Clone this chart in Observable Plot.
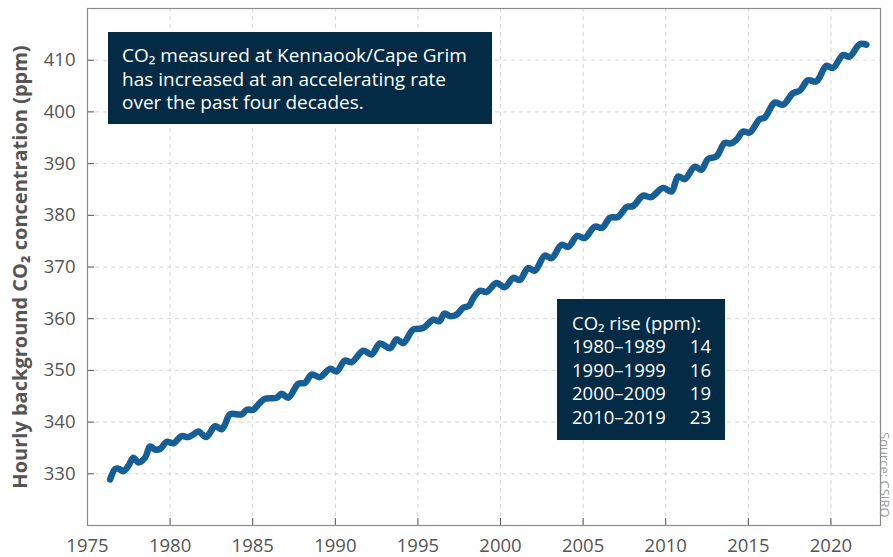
<!DOCTYPE html>
<html><head><meta charset="utf-8">
<script src="https://cdn.jsdelivr.net/npm/d3@7"></script>
<script src="https://cdn.jsdelivr.net/npm/@observablehq/plot@0.6"></script>
<style>
body{margin:0;background:#fff;font-family:"Open Sans",sans-serif;}
#wrap{position:relative;width:893px;height:557px;overflow:hidden;background:#fff;}
#wrap svg{position:absolute;left:0;top:0;}
.box{position:absolute;background:#032b45;color:#fff;font-size:19px;line-height:23.5px;box-sizing:border-box;white-space:nowrap;}
#box1{left:108px;top:32px;width:384px;height:92px;padding:12px 0 0 14px;}
#box2{left:557px;top:299px;width:168px;height:141px;padding:11.5px 14px 0 15px;font-size:18.5px;}
#box2 .row{display:flex;justify-content:space-between;}
#src{position:absolute;left:893px;top:432px;transform-origin:0 0;transform:rotate(90deg);font-size:13px;line-height:17px;color:#999;white-space:nowrap;}
</style></head><body><div id="wrap"></div>
<script>
// decimal year of each reading
const years = [1976.37,1976.67,1976.87,1977.17,1977.47,1977.78,1978.08,1978.48,1978.79,1979.09,1979.39,1979.80,
1980.20,1980.70,1981.10,1981.40,1981.71,1982.18,1982.72,1983.12,1983.32,1983.63,1984.33,1984.64,1985.04,1985.40,
1985.74,1986.45,1986.75,1987.15,1987.76,1988.16,1988.57,1989.07,1989.68,1990.08,1990.58,1990.99,1991.69,1992.20,
1992.70,1993.31,1993.71,1994.11,1994.72,1995.32,1995.93,1996.30,1996.60,1996.94,1997.34,1997.74,1998.10,1998.35,
1998.75,1999.16,1999.76,2000.26,2000.77,2001.17,2001.67,2002.08,2002.68,2003.09,2003.69,2004.09,2004.65,2005.10,
2005.70,2006.15,2006.62,2007.12,2007.63,2008.03,2008.63,2009.10,2009.84,2010.35,2010.75,2011.15,2011.76,2012.16,
2012.56,2013.07,2013.57,2013.95,2014.28,2014.68,2015.08,2015.69,2015.99,2016.60,2017.10,2017.70,2018.11,2018.61,
2019.12,2019.72,2020.12,2020.73,2021.13,2021.74,2022.14];
// CO2 concentration (ppm)
const co2 = [328.9,330.9,331.0,330.5,331.5,333.1,332.2,333.1,335.3,334.7,334.8,336.2,
335.9,337.3,337.1,337.6,338.2,337.1,339.2,338.6,339.5,341.5,341.5,342.4,342.4,343.6,
344.5,344.7,345.5,344.7,347.4,347.6,349.2,348.7,350.3,349.8,351.9,351.6,353.8,353.1,
355.2,354.3,356.0,355.3,357.9,358.2,359.8,359.5,361.0,360.5,360.8,362.1,362.5,364.0,
365.4,365.2,366.9,366.1,367.9,367.5,369.8,369.3,372.2,371.7,374.3,373.9,376.0,375.6,
377.8,377.6,379.5,379.7,381.6,381.8,383.8,383.5,385.3,384.6,387.5,387.0,389.4,388.8,
390.9,391.4,394.0,393.9,394.6,396.2,396.0,398.6,398.9,401.8,401.4,403.6,404.1,406.1,
405.9,408.9,408.5,411.0,410.7,413.1,413.0];
const xTicks = [1975,1980,1985,1990,1995,2000,2005,2010,2015,2020];
const yTicks = [330,340,350,360,370,380,390,400,410];
const decades = ["1980–1989","1990–1999","2000–2009","2010–2019"];
const rises = [14,16,19,23];
const yLabel = "Hourly background CO₂ concentration (ppm)";
const note1 = ["CO₂ measured at Kennaook/Cape Grim","has increased at an accelerating rate","over the past four decades."];
const note2Title = "CO₂ rise (ppm):";
const source = "Source: CSIRO";

const data = years.map((t, i) => ({t, v: co2[i]}));
const grid = {stroke:"#d6d6d6", strokeOpacity:1, strokeDasharray:"4,4", strokeWidth:1};
const chart = Plot.plot({
  width: 893, height: 557,
  marginLeft: 87, marginRight: 13, marginTop: 8, marginBottom: 32,
  style: {fontFamily: "'Open Sans', sans-serif", fontSize: "18.5px", color: "#555", background: "#fff"},
  x: {domain: [1975, 2023]},
  y: {domain: [320, 420]},
  marks: [
    Plot.gridX(xTicks, grid),
    Plot.gridY(yTicks, grid),
    Plot.line(data, {x: "t", y: "v", stroke: "#165e96", strokeWidth: 6.5, curve: "catmull-rom", strokeLinecap: "round", strokeLinejoin: "round"}),
    Plot.axisX(xTicks, {tickSize: 7, dy: -7, tickFormat: () => "", label: null, stroke: "#555"}),
    Plot.axisX(xTicks, {tickSize: 0, tickPadding: 13, tickFormat: d => String(d), label: null, fill: "#555"}),
    Plot.axisY(yTicks, {tickSize: 7, dx: 7, tickFormat: () => "", label: null, stroke: "#555"}),
    Plot.axisY(yTicks, {tickSize: 0, tickPadding: 12, tickFormat: d => String(d), label: null, fill: "#555"}),
    Plot.frame({stroke: "#8a8a8a", strokeWidth: 1.2}),
    Plot.text([yLabel], {frameAnchor: "left", textAnchor: "middle", rotate: -90, dx: -67, fontWeight: "bold", fontSize: 20, fill: "#555"})
  ]
});
const wrap = document.getElementById("wrap");
wrap.appendChild(chart);

const b1 = document.createElement("div");
b1.className = "box"; b1.id = "box1";
note1.forEach(s => { const d = document.createElement("div"); d.textContent = s; b1.appendChild(d); });
wrap.appendChild(b1);

const b2 = document.createElement("div");
b2.className = "box"; b2.id = "box2";
const h = document.createElement("div"); h.textContent = note2Title; b2.appendChild(h);
decades.forEach((dec, i) => {
  const r = document.createElement("div"); r.className = "row";
  const a = document.createElement("span"); a.textContent = dec;
  const b = document.createElement("span"); b.textContent = String(rises[i]);
  r.appendChild(a); r.appendChild(b); b2.appendChild(r);
});
wrap.appendChild(b2);

const s = document.createElement("div"); s.id = "src"; s.textContent = source;
wrap.appendChild(s);
</script>
</body></html>
